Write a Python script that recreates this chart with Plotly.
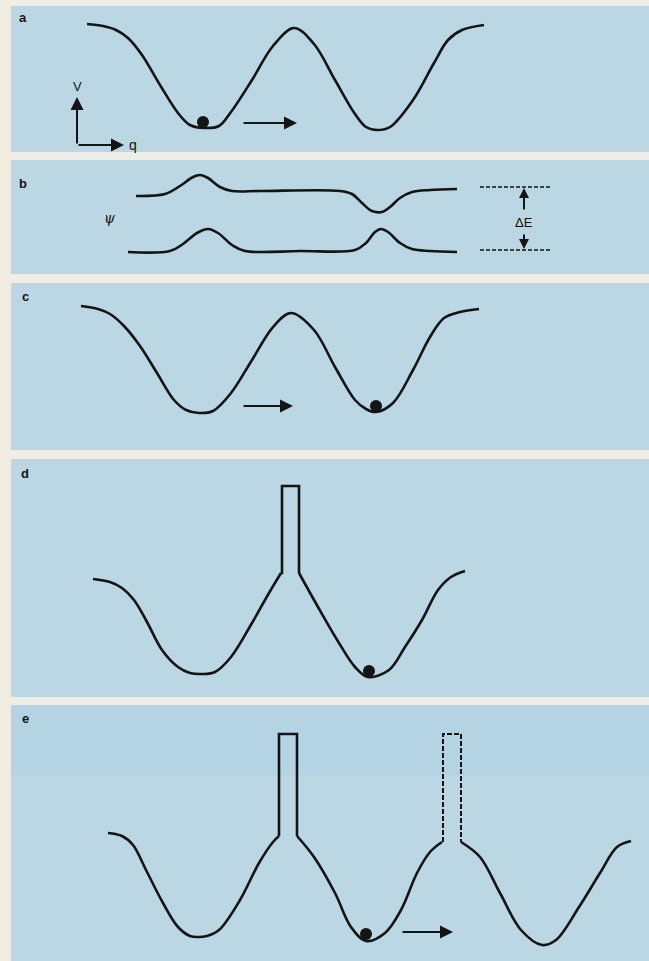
import plotly.graph_objects as go

W, H = 649, 961

# ---- panel layout (page pixel units, y downward) ----
panel_labels = ["a", "b", "c", "d", "e"]
panel_top = [6, 160, 283, 459, 705]
panel_bottom = [152, 274, 450, 697, 961]
panel_left = 11
label_x = [23, 23, 25, 25, 25]
label_y = [17, 183, 296, 473, 718]

# ---- panel a: double well ----
a_x = [87, 103, 116, 128, 142, 160, 178, 190, 204, 219, 231, 252, 273, 294, 314, 335, 355, 366, 377, 390, 413, 434, 448, 462, 484]
a_y = [24, 26, 30, 38, 55, 85, 113, 125, 128, 126, 112, 80, 46, 28, 44, 80, 114, 127, 130, 127, 100, 63, 40, 30, 25]
ball_a = (203, 122)
arrow_a = (242, 297, 123)

# ---- panel b: wavefunctions ----
b_up_x = [136, 165, 180, 193, 200, 208, 220, 232, 260, 340, 352, 362, 372, 382, 390, 400, 412, 430, 457]
b_up_y = [196, 194, 186, 177, 175, 178, 187, 191, 191, 191, 194, 203, 211, 212, 207, 198, 192, 190, 189]
b_lo_x = [128, 170, 183, 197, 208, 218, 232, 245, 300, 355, 366, 375, 381, 388, 400, 412, 430, 457]
b_lo_y = [252, 251, 244, 233, 229, 233, 245, 251, 251, 250, 243, 232, 229, 232, 243, 249, 251, 252]
dE_levels = [187, 250]
dE_x = [480, 552]
dE_arrow_x = 524

# ---- panel c: double well, particle in right well ----
c_x = [81, 98, 110, 124, 140, 157, 174, 186, 199, 213, 231, 252, 273, 291, 314, 335, 355, 366, 376, 393, 413, 430, 444, 460, 479]
c_y = [306, 309, 314, 326, 346, 373, 400, 410, 413, 411, 393, 360, 327, 313, 330, 367, 400, 409, 412, 403, 370, 337, 318, 312, 309]
ball_c = (376, 406)
arrow_c = (242, 293, 406)

# ---- panel d: barrier raised ----
d_left_x = [93, 110, 122, 134, 147, 162, 178, 190, 202, 215, 231, 252, 269, 281]
d_left_y = [579, 582, 588, 600, 622, 650, 667, 673, 674, 672, 657, 623, 593, 573]
d_right_x = [299, 318, 339, 355, 368, 389, 405, 422, 438, 451, 465]
d_right_y = [573, 607, 643, 667, 677, 670, 647, 620, 590, 577, 571]
d_bar_x = [281, 282, 282, 299, 299]
d_bar_y = [573, 573, 486, 486, 573]
ball_d = (369, 671)

# ---- panel e: three wells, solid + dashed barrier ----
e_1_x = [108, 122, 133, 146, 163, 178, 190, 198, 207, 219, 240, 259, 273, 279]
e_1_y = [833, 836, 845, 870, 903, 927, 936, 937, 936, 930, 900, 863, 842, 836]
e_2_x = [297, 314, 335, 351, 366, 385, 401, 417, 430, 442]
e_2_y = [836, 857, 893, 927, 941, 933, 910, 873, 852, 842]
e_3_x = [461, 480, 500, 521, 542, 556, 579, 600, 617, 631]
e_3_y = [842, 857, 893, 930, 945, 940, 907, 873, 847, 841]
e_bar1_x = [279, 279, 297, 297]
e_bar1_y = [836, 734, 734, 836]
e_bar2_x = [443, 443, 461, 461]
e_bar2_y = [842, 734, 734, 842]
ball_e = (366, 934)
arrow_e = (401, 453, 932)

INK = "#141414"
PANEL = "#bad7e3"
PANEL_E_TOP = "#b4d4e3"
SEP = "#eeede8"
MARGIN = "#f1ece0"
LW = 2.6

fig = go.Figure()


def curve(xs, ys, shape="spline", dash="solid", width=LW):
    fig.add_trace(go.Scatter(
        x=xs, y=ys, mode="lines",
        line=dict(color=INK, width=width, shape=shape, smoothing=1.0 if shape == "spline" else None, dash=dash),
        hoverinfo="skip"))


def ball(p):
    fig.add_trace(go.Scatter(x=[p[0]], y=[p[1]], mode="markers",
                             marker=dict(color=INK, size=12), hoverinfo="skip"))


def arrow(x0, y0, x1, y1, head=2, size=1.3, width=2):
    fig.add_annotation(x=x1, y=y1, ax=x0, ay=y0, xref="x", yref="y", axref="x", ayref="y",
                       showarrow=True, arrowhead=head, arrowsize=size, arrowwidth=width,
                       arrowcolor=INK, text="")


# panels
fig.add_shape(type="rect", x0=0, x1=panel_left, y0=0, y1=H, fillcolor=MARGIN, line_width=0, layer="below")
for t, b in zip(panel_top, panel_bottom):
    fig.add_shape(type="rect", x0=panel_left, x1=W, y0=t, y1=b, fillcolor=PANEL, line_width=0, layer="below")
fig.add_shape(type="rect", x0=panel_left, x1=W, y0=panel_top[4], y1=panel_top[4] + 70,
              fillcolor=PANEL_E_TOP, line_width=0, layer="below")
for lab, lx, ly in zip(panel_labels, label_x, label_y):
    fig.add_annotation(x=lx, y=ly, xref="x", yref="y", text="<b>%s</b>" % lab, showarrow=False,
                       font=dict(family="Liberation Sans, Arial", size=13, color=INK))

# a
curve(a_x, a_y)
ball(ball_a)
arrow(arrow_a[0], arrow_a[2], arrow_a[1], arrow_a[2])
arrow(77, 145, 77, 97)
arrow(77, 145, 124, 145)
fig.add_annotation(x=77, y=86, xref="x", yref="y", text="V", showarrow=False,
                   font=dict(family="Liberation Sans, Arial", size=13, color=INK))
fig.add_annotation(x=133, y=145, xref="x", yref="y", text="q", showarrow=False,
                   font=dict(family="Liberation Sans, Arial", size=14, color=INK))

# b
curve(b_up_x, b_up_y)
curve(b_lo_x, b_lo_y)
for lv in dE_levels:
    curve(dE_x, [lv, lv], shape="linear", dash="4px,2px", width=1.3)
arrow(dE_arrow_x, 211, dE_arrow_x, dE_levels[0] + 1, head=2, size=1.0, width=2)
arrow(dE_arrow_x, 233, dE_arrow_x, dE_levels[1] - 1, head=2, size=1.0, width=2)
fig.add_annotation(x=dE_arrow_x, y=222, xref="x", yref="y", text="ΔE", showarrow=False,
                   font=dict(family="Liberation Sans, Arial", size=13, color=INK))
fig.add_annotation(x=110, y=218, xref="x", yref="y", text="<i>ψ</i>", showarrow=False,
                   font=dict(family="DejaVu Serif", size=14, color=INK))

# c
curve(c_x, c_y)
ball(ball_c)
arrow(arrow_c[0], arrow_c[2], arrow_c[1], arrow_c[2])

# d
curve(d_left_x, d_left_y)
curve(d_bar_x, d_bar_y, shape="linear")
curve(d_right_x, d_right_y)
ball(ball_d)

# e
curve(e_1_x, e_1_y)
curve(e_bar1_x, e_bar1_y, shape="linear")
curve(e_2_x, e_2_y)
curve(e_bar2_x, e_bar2_y, shape="linear", dash="5px,2px", width=2)
curve(e_3_x, e_3_y)
ball(ball_e)
arrow(arrow_e[0], arrow_e[2], arrow_e[1], arrow_e[2])

fig.update_layout(
    width=W, height=H, margin=dict(l=0, r=0, t=0, b=0),
    paper_bgcolor=SEP, plot_bgcolor=SEP, showlegend=False,
    xaxis=dict(range=[0, W], visible=False, fixedrange=True),
    yaxis=dict(range=[H, 0], visible=False, fixedrange=True),
)
fig.write_html(
    "out.html",
    config={"displayModeBar": False},
    post_script="document.body.style.margin='0';document.body.style.overflow='hidden';document.body.style.background='%s';" % SEP,
)
